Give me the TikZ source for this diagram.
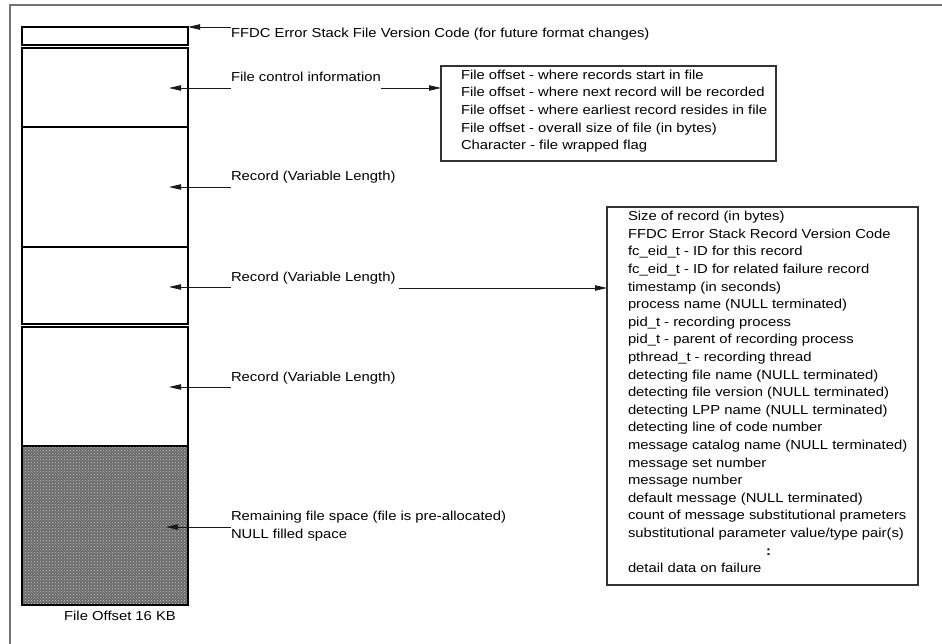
\documentclass[tikz,border=0pt]{standalone}
\usepackage{fontspec}
\setmainfont{Liberation Sans}[FakeStretch=1.14]
\usetikzlibrary{arrows.meta,patterns,calc}
\begin{document}
\begin{tikzpicture}[x=1pt,y=-1pt,
  every node/.style={font=\fontsize{13}{17.7}\selectfont},
  seg/.style={draw=black,line width=1.3pt,anchor=north west,inner sep=0pt,outer sep=0pt,minimum width=166pt},
  lbl/.style={anchor=base west,inner sep=0pt,outer sep=0pt},
  ptr/.style={draw=black!90,line width=0.9pt,-{Triangle[length=12pt,width=5.4pt]}},
  infobox/.style={draw=black!80,line width=1.2pt,anchor=north west,inner sep=0pt,outer sep=0pt},
  frame/.style={draw=black!55,line width=1.8pt}
]
\useasboundingbox (0,0) rectangle (942,644);

% page frame (top and left edges)
\draw[frame] (10,644) -- (10,5) -- (942,5);

% file layout column
\node[seg, minimum height=18pt]  (ver)  at (22,27)  {};
\node[seg, minimum height=79pt]  (fc)   at (22,48)  {};
\node[seg, minimum height=120pt] (rec1) at (22,127) {};
\node[seg, minimum height=77pt]  (rec2) at (22,247) {};
\node[seg, minimum height=119pt] (rec3) at (22,327) {};
\node[seg, minimum height=159pt, preaction={fill=black!58},
      pattern=crosshatch dots, pattern color=white!78!black] (pad) at (22,446) {};
\node[anchor=base, inner sep=0pt] (offLbl) at (120,620) {File Offset 16 KB};

% labels
\node[lbl] (verLbl)  at (231,38)  {FFDC Error Stack File Version Code (for future format changes)};
\node[lbl] (fcLbl)   at (231,82)  {File control information};
\node[lbl] (rec1Lbl) at (231,181) {Record (Variable Length)};
\node[lbl] (rec2Lbl) at (231,281) {Record (Variable Length)};
\node[lbl] (rec3Lbl) at (231,381) {Record (Variable Length)};
\node[lbl] (padLbl)  at (231,520.3) {Remaining file space (file is pre-allocated)};
\node[lbl] (nullLbl) at (231,538) {NULL filled space};

% arrow tips inside the column
\coordinate (fcTip)   at (169,88);
\coordinate (rec1Tip) at (169,187);
\coordinate (rec2Tip) at (169,287);
\coordinate (rec3Tip) at (169,387);
\coordinate (padTip)  at (166,527);
\coordinate (rec2Row) at (0,288);

\draw[ptr] (verLbl.west |- ver.north) -- (ver.north east);
\draw[ptr] (fcLbl.west |- fcTip) -- (fcTip);
\draw[ptr] (rec1Lbl.west |- rec1Tip) -- (rec1Tip);
\draw[ptr] (rec2Lbl.west |- rec2Tip) -- (rec2Tip);
\draw[ptr] (rec3Lbl.west |- rec3Tip) -- (rec3Tip);
\draw[ptr] (padLbl.west |- padTip) -- (padTip);

% file control information box
\node[infobox, minimum width=335pt, minimum height=95pt] (fcInfo) at (441,66) {};
\foreach \t [count=\i from 0] in {
  File offset - where records start in file,
  File offset - where next record will be recorded,
  File offset - where earliest record resides in file,
  File offset - overall size of file (in bytes),
  Character - file wrapped flag}
  \node[lbl] (fcLine\i) at (461,79.3+17.6*\i) {\t};

% record layout box
\node[infobox, minimum width=311pt, minimum height=378pt] (recInfo) at (607,207) {};
\foreach \t [count=\i from 0] in {
  Size of record (in bytes),
  FFDC Error Stack Record Version Code,
  fc\_eid\_t - ID for this record,
  fc\_eid\_t - ID for related failure record,
  timestamp (in seconds),
  process name (NULL terminated),
  pid\_t - recording process,
  pid\_t - parent of recording process,
  pthread\_t - recording thread,
  detecting file name (NULL terminated),
  detecting file version (NULL terminated),
  detecting LPP name (NULL terminated),
  detecting line of code number,
  message catalog name (NULL terminated),
  message set number,
  message number,
  default message (NULL terminated),
  count of message substitutional prameters,
  substitutional parameter value/type pair(s),
  {\hspace*{138pt}\textbf{:}},
  detail data on failure}
  \node[lbl] (recLine\i) at (628,220.7+17.6*\i) {\t};

% connectors to the detail boxes
\draw[ptr] (fcLbl.east |- fcTip) -- (fcInfo.west |- fcTip);
\draw[ptr] ($(rec2Lbl.east |- rec2Row)+(4,0)$) -- (recInfo.west |- rec2Row);
\end{tikzpicture}
\end{document}
